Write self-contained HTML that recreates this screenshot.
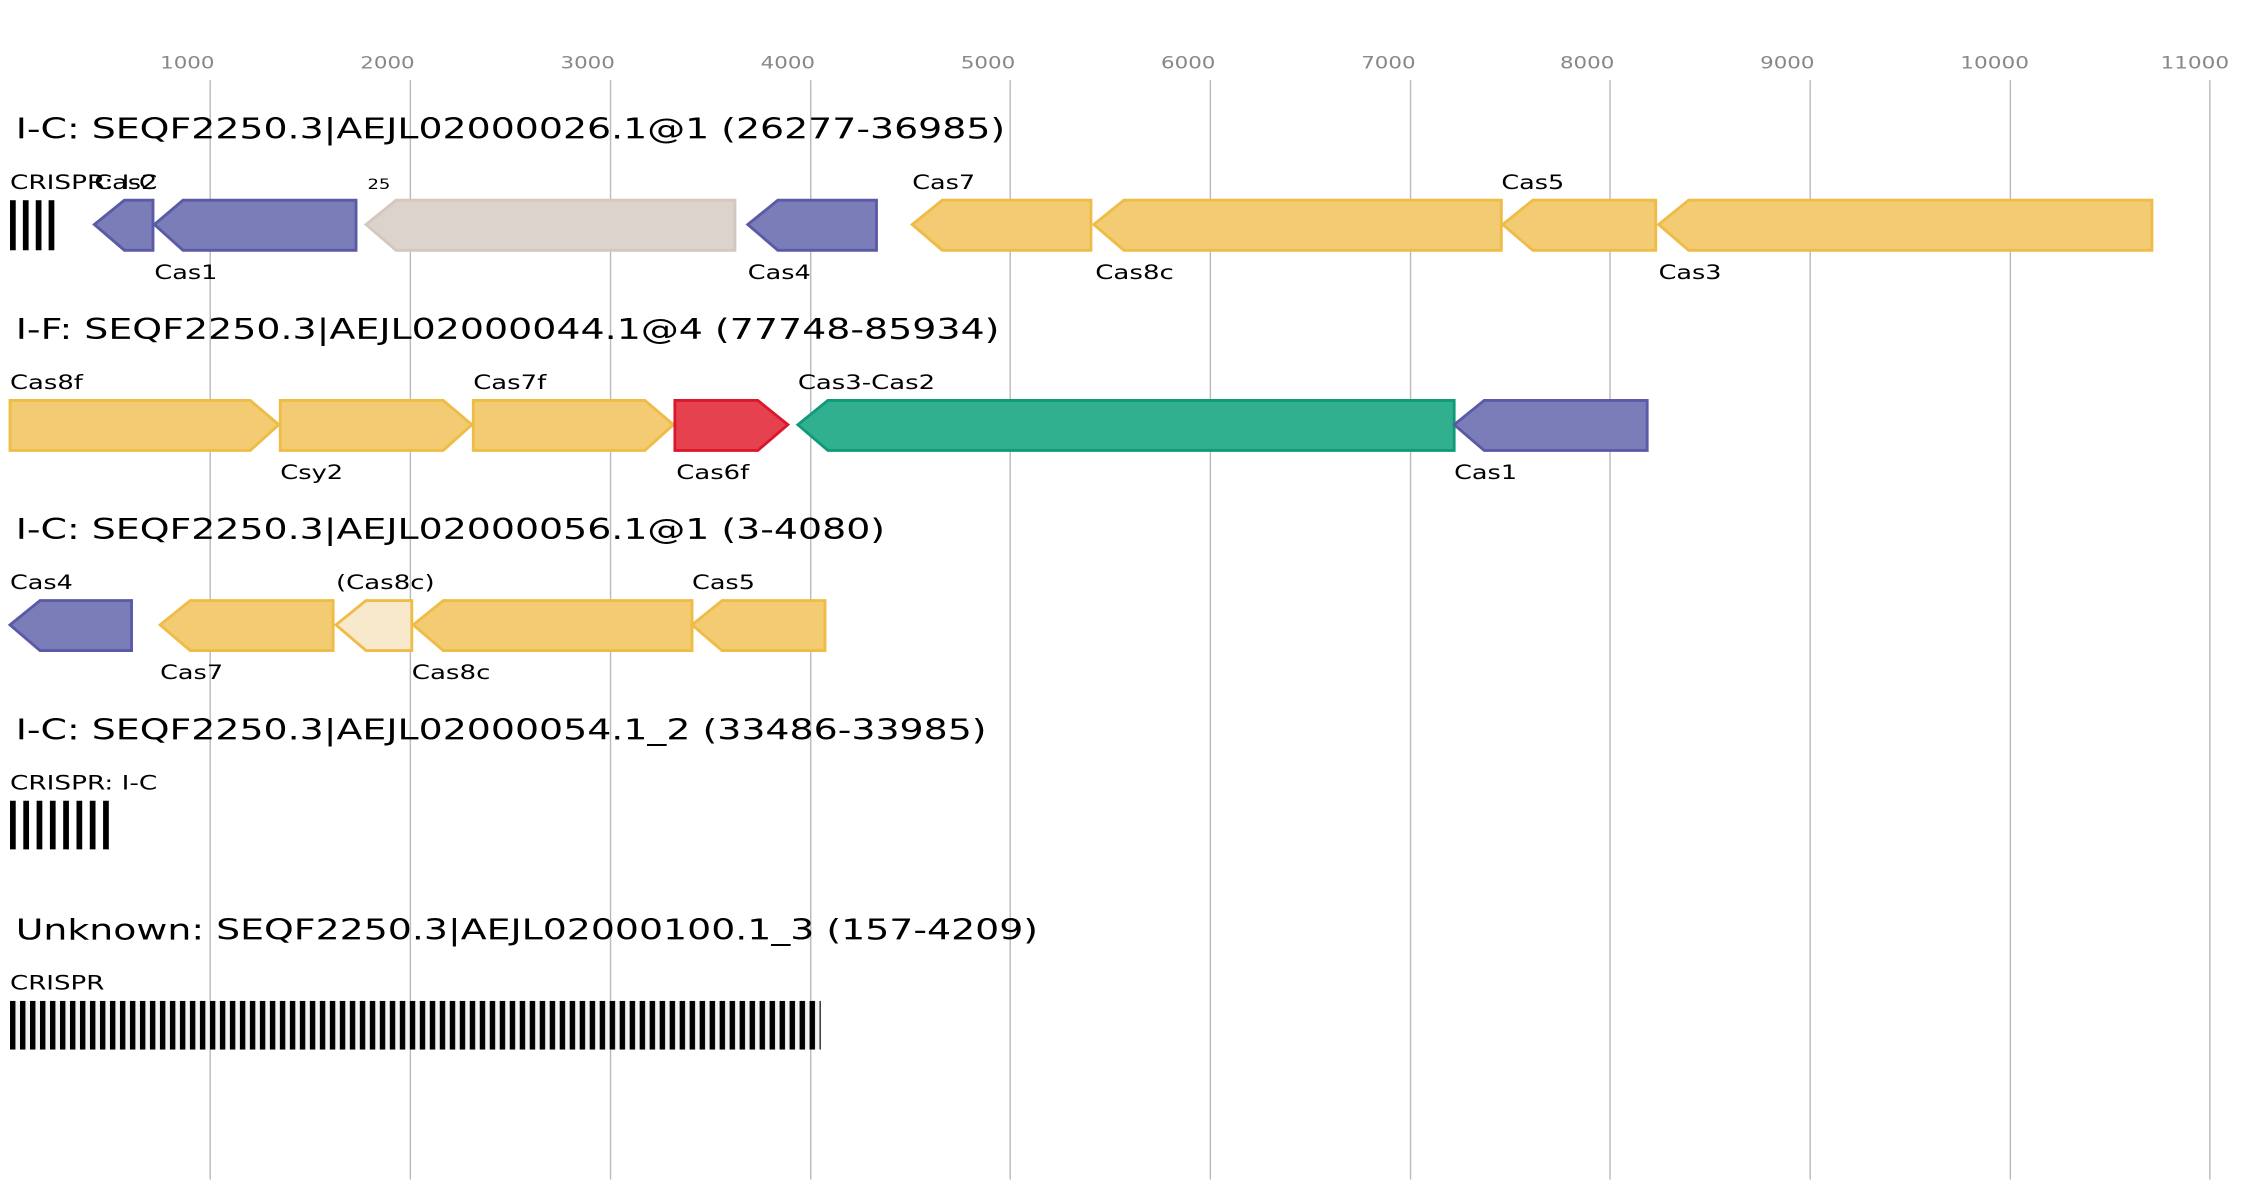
<!DOCTYPE html>
<html><head><meta charset="utf-8"><style>
html,body{margin:0;padding:0;background:#fff;}
svg{display:block;font-family:"DejaVu Sans","Liberation Sans",sans-serif;}
.t{font-size:20px;fill:#000}
.l{font-size:13.5px;fill:#000}
.k{font-size:12px;fill:#888}
.y{fill:#f2cb73;stroke:#eebc47;stroke-width:2}
.p{fill:#7b7db8;stroke:#5a5aa6;stroke-width:2}
</style></head><body>
<svg width="2242" height="1200" viewBox="0 0 1568 839.2" xmlns="http://www.w3.org/2000/svg">
<g stroke="#bbb" stroke-width="1">
<line x1="147" y1="56" x2="147" y2="825"/><line x1="287" y1="56" x2="287" y2="825"/><line x1="427" y1="56" x2="427" y2="825"/><line x1="567" y1="56" x2="567" y2="825"/><line x1="706.5" y1="56" x2="706.5" y2="825"/><line x1="846.5" y1="56" x2="846.5" y2="825"/><line x1="986.5" y1="56" x2="986.5" y2="825"/><line x1="1126" y1="56" x2="1126" y2="825"/><line x1="1266" y1="56" x2="1266" y2="825"/><line x1="1406" y1="56" x2="1406" y2="825"/><line x1="1545.5" y1="56" x2="1545.5" y2="825"/>
</g>
<g class="k" lengthAdjust="spacingAndGlyphs">
<text x="112" y="48" class="k" textLength="38" lengthAdjust="spacingAndGlyphs">1000</text>
<text x="252" y="48" class="k" textLength="38" lengthAdjust="spacingAndGlyphs">2000</text>
<text x="392" y="48" class="k" textLength="38" lengthAdjust="spacingAndGlyphs">3000</text>
<text x="532" y="48" class="k" textLength="38" lengthAdjust="spacingAndGlyphs">4000</text>
<text x="672" y="48" class="k" textLength="38" lengthAdjust="spacingAndGlyphs">5000</text>
<text x="812" y="48" class="k" textLength="38" lengthAdjust="spacingAndGlyphs">6000</text>
<text x="952" y="48" class="k" textLength="38" lengthAdjust="spacingAndGlyphs">7000</text>
<text x="1091" y="48" class="k" textLength="38" lengthAdjust="spacingAndGlyphs">8000</text>
<text x="1231" y="48" class="k" textLength="38" lengthAdjust="spacingAndGlyphs">9000</text>
<text x="1371" y="48" class="k" textLength="48" lengthAdjust="spacingAndGlyphs">10000</text>
<text x="1511" y="48" class="k" textLength="48" lengthAdjust="spacingAndGlyphs">11000</text>
</g>
<!-- Row 1 -->
<text x="11" y="97" class="t" textLength="692" lengthAdjust="spacingAndGlyphs">I-C: SEQF2250.3|AEJL02000026.1@1 (26277-36985)</text>
<g fill="#000"><rect x="7" y="140" width="4" height="35"/><rect x="16" y="140" width="4" height="35"/><rect x="25" y="140" width="4" height="35"/><rect x="34" y="140" width="4" height="35"/></g>
<polygon class="p" points="66,157 87,140 107,140 107,175 87,175"/>
<polygon class="p" points="108,157 128,140 249,140 249,175 128,175"/>
<polygon fill="#ddd3cd" stroke="#d3c7bf" stroke-width="2" points="256,157 277,140 514,140 514,175 277,175"/>
<polygon class="p" points="523,157 544,140 613,140 613,175 544,175"/>
<polygon class="y" points="638,157 659,140 763,140 763,175 659,175"/>
<polygon class="y" points="765,157 786,140 1050,140 1050,175 786,175"/>
<polygon class="y" points="1051,157 1072,140 1158,140 1158,175 1072,175"/>
<polygon class="y" points="1160,157 1181,140 1505,140 1505,175 1181,175"/>
<text x="7" y="132" class="l" textLength="103" lengthAdjust="spacingAndGlyphs">CRISPR: I-C</text>
<text x="66" y="132" class="l" textLength="44" lengthAdjust="spacingAndGlyphs">Cas2</text>
<text x="257" y="132" style="font-size:10px" textLength="16" lengthAdjust="spacingAndGlyphs">25</text>
<text x="108" y="195" class="l" textLength="44" lengthAdjust="spacingAndGlyphs">Cas1</text>
<text x="523" y="195" class="l" textLength="44" lengthAdjust="spacingAndGlyphs">Cas4</text>
<text x="638" y="132" class="l" textLength="44" lengthAdjust="spacingAndGlyphs">Cas7</text>
<text x="766" y="195" class="l" textLength="55" lengthAdjust="spacingAndGlyphs">Cas8c</text>
<text x="1050" y="132" class="l" textLength="44" lengthAdjust="spacingAndGlyphs">Cas5</text>
<text x="1160" y="195" class="l" textLength="44" lengthAdjust="spacingAndGlyphs">Cas3</text>
<!-- Row 2 -->
<text x="11" y="237" class="t" textLength="688" lengthAdjust="spacingAndGlyphs">I-F: SEQF2250.3|AEJL02000044.1@4 (77748-85934)</text>
<polygon class="y" points="7,280 175,280 195,297 175,315 7,315"/>
<polygon class="y" points="196,280 310,280 330,297 310,315 196,315"/>
<polygon class="y" points="331,280 451,280 471,297 451,315 331,315"/>
<polygon fill="#e5414f" stroke="#d9192b" stroke-width="2" points="472,280 530,280 551,297 530,315 472,315"/>
<polygon fill="#30b08f" stroke="#109a78" stroke-width="2" points="558,297 579,280 1017,280 1017,315 579,315"/>
<polygon class="p" points="1017,297 1038,280 1152,280 1152,315 1038,315"/>
<text x="7" y="272" class="l" textLength="51" lengthAdjust="spacingAndGlyphs">Cas8f</text>
<text x="196" y="335" class="l" textLength="44" lengthAdjust="spacingAndGlyphs">Csy2</text>
<text x="331" y="272" class="l" textLength="51" lengthAdjust="spacingAndGlyphs">Cas7f</text>
<text x="473" y="335" class="l" textLength="51" lengthAdjust="spacingAndGlyphs">Cas6f</text>
<text x="558" y="272" class="l" textLength="96" lengthAdjust="spacingAndGlyphs">Cas3-Cas2</text>
<text x="1017" y="335" class="l" textLength="44" lengthAdjust="spacingAndGlyphs">Cas1</text>
<!-- Row 3 -->
<text x="11" y="377" class="t" textLength="608" lengthAdjust="spacingAndGlyphs">I-C: SEQF2250.3|AEJL02000056.1@1 (3-4080)</text>
<polygon class="p" points="7,437 28,420 92,420 92,455 28,455"/>
<polygon class="y" points="112,437 133,420 233,420 233,455 133,455"/>
<polygon fill="#f8e9cc" stroke="#eebc47" stroke-width="2" points="235,437 256,420 288,420 288,455 256,455"/>
<polygon class="y" points="289,437 310,420 484,420 484,455 310,455"/>
<polygon class="y" points="484,437 505,420 577,420 577,455 505,455"/>
<text x="7" y="412" class="l" textLength="44" lengthAdjust="spacingAndGlyphs">Cas4</text>
<text x="112" y="475" class="l" textLength="44" lengthAdjust="spacingAndGlyphs">Cas7</text>
<text x="235" y="412" class="l" textLength="69" lengthAdjust="spacingAndGlyphs">(Cas8c)</text>
<text x="288" y="475" class="l" textLength="55" lengthAdjust="spacingAndGlyphs">Cas8c</text>
<text x="484" y="412" class="l" textLength="44" lengthAdjust="spacingAndGlyphs">Cas5</text>
<!-- Row 4 -->
<text x="11" y="517" class="t" textLength="679" lengthAdjust="spacingAndGlyphs">I-C: SEQF2250.3|AEJL02000054.1_2 (33486-33985)</text>
<text x="7" y="552" class="l" textLength="103" lengthAdjust="spacingAndGlyphs">CRISPR: I-C</text>
<g fill="#000"><rect x="7" y="560" width="4" height="34"/><rect x="16.3" y="560" width="4" height="34"/><rect x="25.6" y="560" width="4" height="34"/><rect x="34.9" y="560" width="4" height="34"/><rect x="44.2" y="560" width="4" height="34"/><rect x="53.5" y="560" width="4" height="34"/><rect x="62.8" y="560" width="4" height="34"/><rect x="72.1" y="560" width="4" height="34"/></g>
<!-- Row 5 -->
<text x="11" y="657" class="t" textLength="715" lengthAdjust="spacingAndGlyphs">Unknown: SEQF2250.3|AEJL02000100.1_3 (157-4209)</text>
<text x="7" y="692" class="l" textLength="66" lengthAdjust="spacingAndGlyphs">CRISPR</text>
<defs><pattern id="bp" x="7" y="0" width="6.99" height="40" patternUnits="userSpaceOnUse"><rect x="0" y="0" width="3.8" height="40" fill="#000"/></pattern></defs>
<rect x="7" y="700" width="567" height="34" fill="#f2f2f2"/>
<rect x="7" y="700" width="567" height="34" fill="url(#bp)"/>
</svg>
</body></html>
